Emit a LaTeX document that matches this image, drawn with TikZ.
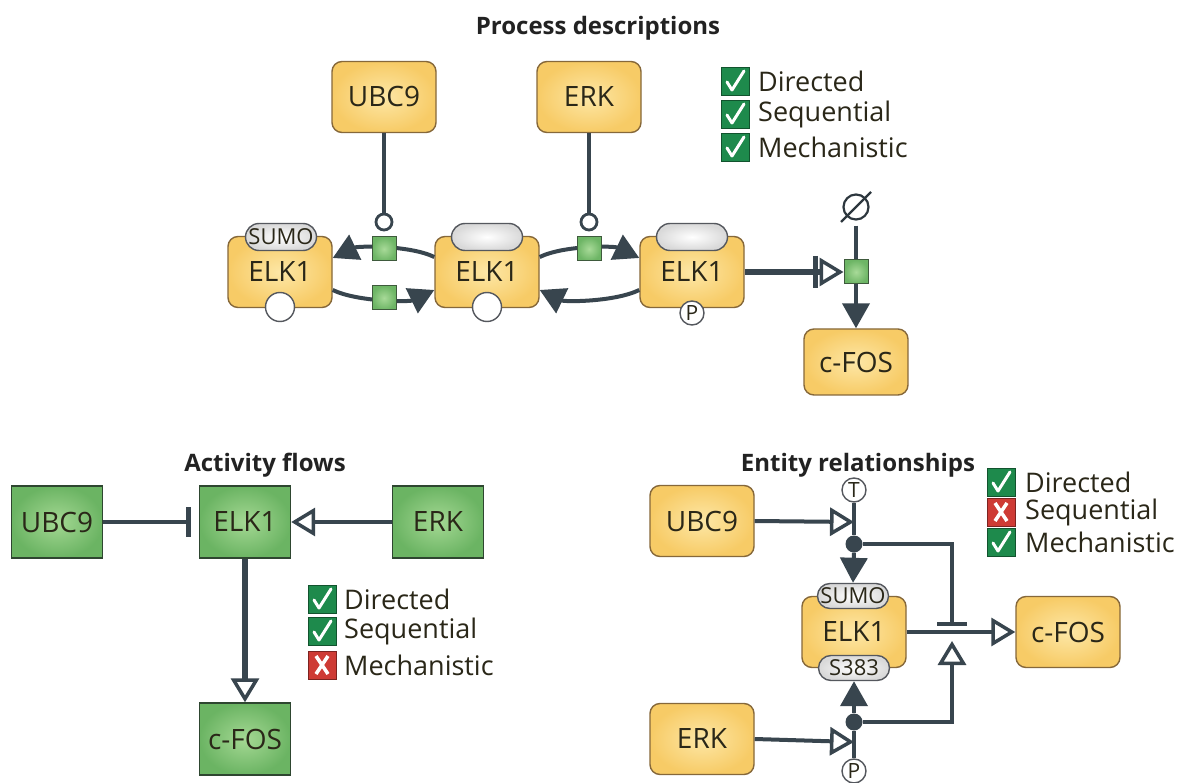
\documentclass[tikz,border=0pt]{standalone}
\usepackage{fontspec}
\setmainfont{Open Sans}
\usetikzlibrary{arrows.meta,shapes.misc,calc}
\definecolor{ln}{HTML}{38454E}
\definecolor{txt}{HTML}{2A2718}
\definecolor{ttxt}{HTML}{222222}
\definecolor{obord}{HTML}{86683A}
\definecolor{oin}{HTML}{FDE7A6}
\definecolor{oout}{HTML}{F7CB66}
\definecolor{gbord}{HTML}{2E4630}
\definecolor{gin}{HTML}{A4D893}
\definecolor{gout}{HTML}{6BB463}
\definecolor{pbord}{HTML}{3E5A3C}
\definecolor{pin}{HTML}{A8DA98}
\definecolor{pout}{HTML}{6DB565}
\definecolor{ubord}{HTML}{55585E}
\definecolor{ckg}{HTML}{1E8A4C}
\definecolor{ckr}{HTML}{CE3B35}
\tikzset{
  obox/.style={draw=obord, line width=1.4pt, rounded corners=10pt, inner color=oin, outer color=oout,
    minimum width=104pt, minimum height=71pt, inner sep=0pt, font=\fontsize{28}{30}\selectfont, text=txt},
  gbox/.style={draw=gbord, line width=1.4pt, inner color=gin, outer color=gout,
    minimum width=91pt, minimum height=72pt, inner sep=0pt, font=\fontsize{28}{30}\selectfont, text=txt},
  unitS/.style={rounded rectangle, draw=ubord, line width=1.4pt, inner color=white, outer color=gray!30,
    minimum width=71pt, minimum height=27pt, inner sep=0pt, font=\fontsize{22}{23}\selectfont, text=txt},
  stateC/.style={circle, draw=ubord, line width=1.4pt, fill=white, minimum size=29pt, inner sep=0pt,
    font=\fontsize{21}{22}\selectfont, text=txt},
  smallC/.style={circle, draw=ubord, line width=1.4pt, fill=white, minimum size=24pt, inner sep=0pt,
    font=\fontsize{21}{22}\selectfont, text=txt},
  proc/.style={rectangle, draw=pbord, line width=1pt, inner color=pin, outer color=pout,
    minimum size=24pt, inner sep=0pt},
  catC/.style={circle, draw=ln, line width=2.8pt, fill=white, minimum size=16pt, inner sep=0pt},
  dotN/.style={circle, fill=ln, minimum size=17pt, inner sep=0pt},
  conn/.style={draw=ln, line width=4pt},
  thickconn/.style={draw=ln, line width=6pt},
  ttl/.style={font=\bfseries\fontsize{24}{26}\selectfont, text=ttxt},
  lbl/.style={font=\fontsize{27}{29}\selectfont, anchor=west, text=txt, inner sep=0pt},
  arF/.style={-{Triangle[length=25pt,width=27pt]}},
  arO/.style={-{Triangle[open,length=24pt,width=28pt,line width=3.5pt]}},
  arB/.style={-{Bar[width=30pt,line width=4.5pt]}},
  pics/chk/.style={code={
    \draw[fill=ckg, draw=ckg!60!black, line width=0.8pt] (-14,-14) rectangle (14,14);
    \draw[white, line width=3pt, line cap=round, line join=round] (-8,1) -- (-3,9) -- (9,-10);}},
  pics/crs/.style={code={
    \draw[fill=ckr, draw=ckr!60!black, line width=0.8pt] (-14,-14) rectangle (14,14);
    \draw[white, line width=3.5pt] (-6,-9) -- (6,9) (6,-9) -- (-6,9);}}
}
\begin{document}
\begin{tikzpicture}[x=1pt,y=-1pt]
\fill[white] (0,0) rectangle (1186,783);
\useasboundingbox (0,0) rectangle (1186,783);

% ================= Process descriptions =================
\node[ttl] (t1) at (598,28) {Process descriptions};
\node[obox] (ubcP) at (384,97) {UBC9};
\node[obox] (erkP) at (589,97) {ERK};

\pic at (735,81) {chk};  \node[lbl] (p1) at (758,81) {Directed};
\pic at (735,114) {chk}; \node[lbl] (p2) at (758,114) {Sequential};
\pic at (735,147) {chk}; \node[lbl] (p3) at (758,147) {Mechanistic};

\node[obox] (elkL) at (280,272) {ELK1};
\node[unitS] (uL) at (281,237) {SUMO};
\node[stateC] (sL) at (280,307) {};
\node[obox] (elkM) at (487,272) {ELK1};
\node[unitS] (uM) at (487,237) {};
\node[stateC] (sM) at (487,307) {};
\node[obox] (elkR) at (692,272) {ELK1};
\node[unitS] (uR) at (692,237) {};
\node[smallC] (sR) at (692,313) {P};

% curved conversions
\draw[conn, arF] ([yshift=15pt]elkM.west) .. controls +(-25,-12) and +(25,-12) .. ([yshift=14pt]elkL.east);
\draw[conn, arF] ([yshift=-18pt]elkL.east) .. controls +(25,12) and +(-25,12) .. ([yshift=-18pt]elkM.west);
\draw[conn, arF] ([yshift=15pt]elkM.east) .. controls +(25,-12) and +(-25,-12) .. ([yshift=14pt]elkR.west);
\draw[conn, arF] ([yshift=-18pt]elkR.west) .. controls +(-25,12) and +(25,12) .. ([yshift=-18pt]elkM.east);

\node[proc] (q1) at (384,249) {};
\node[proc] (q2) at (384,298) {};
\node[proc] (q3) at (589,249) {};
\node[catC] (c1) at (384,222) {};
\node[catC] (c3) at (589,222) {};
\draw[conn] (ubcP.south) -- (c1.north);
\draw[conn] (erkP.south) -- (c3.north);

\node[proc] (q5) at (856,272) {};
\node[circle, draw=ln!80!black, line width=2.2pt, minimum size=25pt, inner sep=0pt] (src) at (856,207) {};
\draw[draw=ln!80!black, line width=2.2pt] ($(src.center)+(-15,15)$) -- ($(src.center)+(15,-15)$);
\node[obox, minimum height=66pt] (cfosP) at (856,362) {c-FOS};
\draw[conn, shorten <=5pt] (src.south) -- (q5.north);
\draw[conn, arF] (q5.south) -- (cfosP.north);
\draw[thickconn, arO] (elkR.east) -- (q5.west);
\draw[draw=ln, line width=4.5pt] ($(q5.west)+(-28,-16)$) -- ++(0,32);

% ================= Activity flows =================
\node[ttl] (t2) at (265,465) {Activity flows};
\node[gbox] (ubcA) at (57,522) {UBC9};
\node[gbox] (elkA) at (245,522) {ELK1};
\node[gbox] (erkA) at (438,522) {ERK};
\node[gbox] (cfosA) at (245,739) {c-FOS};
\draw[conn, arB] (ubcA.east) -- ([xshift=-8pt]elkA.west);
\draw[conn, arO] (erkA.west) -- (elkA.east);
\draw[thickconn, arO] (elkA.south) -- (cfosA.north);

\pic at (322,599) {chk}; \node[lbl] (a1) at (344,599) {Directed};
\pic at (322,631) {chk}; \node[lbl] (a2) at (344,631) {Sequential};
\pic at (322,665) {crs}; \node[lbl] (a3) at (344,665) {Mechanistic};

% ================= Entity relationships =================
\node[ttl] (t3) at (858,465) {Entity relationships};
\node[obox] (ubcE) at (702,521) {UBC9};
\node[obox] (erkE) at (702,739) {ERK};
\node[obox] (elkE) at (854,632) {ELK1};
\node[unitS, minimum height=25pt] (uE) at (853,596) {SUMO};
\node[unitS, minimum height=25pt] (sE) at (854,668) {S383};
\node[obox] (cfosE) at (1068,632) {c-FOS};
\node[smallC] (tE) at (854,490) {T};
\node[smallC] (pE) at (854,771) {P};
\node[dotN] (d1) at (854,544) {};
\node[dotN] (d2) at (854,722) {};
\coordinate (tipU) at (854,522);
\coordinate (tipE) at (854,742);
\coordinate (j1) at (952,544);
\coordinate (j2) at (952,722);
\coordinate (barE) at (952,626);
\coordinate (triE) at (952,641);

\draw[conn] (tE.south) -- (d1.north);
\draw[conn, arF] (d1.south) -- (uE.north);
\draw[conn] (pE.north) -- (d2.south);
\draw[conn, arF] (d2.north) -- (sE.south);
\draw[conn, arO] (ubcE.east) -- (tipU);
\draw[conn, arO] (erkE.east) -- (tipE);
\draw[conn, arO] (elkE.east) -- (cfosE.west);
\draw[conn, arB] (d1.east) -- (j1) -- (barE);
\draw[conn, arO] (d2.east) -- (j2) -- (triE);

\pic at (1001,482) {chk}; \node[lbl] (e1) at (1025,482) {Directed};
\pic at (1001,512) {crs}; \node[lbl] (e2) at (1025,512) {Sequential};
\pic at (1001,542) {chk}; \node[lbl] (e3) at (1025,542) {Mechanistic};
\end{tikzpicture}
\end{document}
